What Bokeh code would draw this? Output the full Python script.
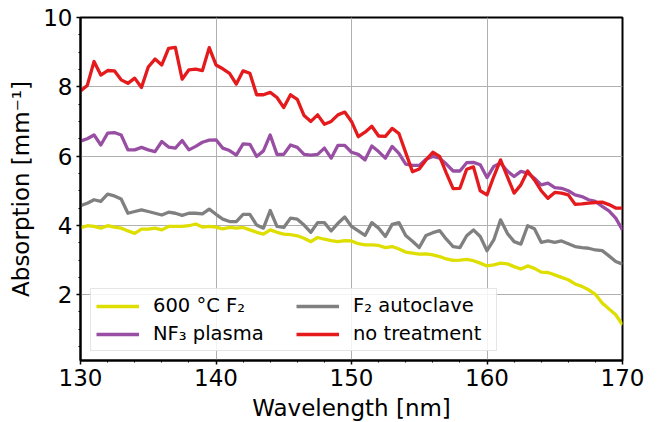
from bokeh.plotting import figure
from bokeh.models import Legend, LegendItem, SingleIntervalTicker, Range1d
from bokeh.embed import file_html
from bokeh.resources import INLINE

wavelength = [130.0, 130.5, 131.0, 131.5, 132.0, 132.5, 133.0, 133.5, 134.0, 134.5,
              135.0, 135.5, 136.0, 136.5, 137.0, 137.5, 138.0, 138.5, 139.0, 139.5,
              140.0, 140.5, 141.0, 141.5, 142.0, 142.5, 143.0, 143.5, 144.0, 144.5,
              145.0, 145.5, 146.0, 146.5, 147.0, 147.5, 148.0, 148.5, 149.0, 149.5,
              150.0, 150.5, 151.0, 151.5, 152.0, 152.5, 153.0, 153.5, 154.0, 154.5,
              155.0, 155.5, 156.0, 156.5, 157.0, 157.5, 158.0, 158.5, 159.0, 159.5,
              160.0, 160.5, 161.0, 161.5, 162.0, 162.5, 163.0, 163.5, 164.0, 164.5,
              165.0, 165.5, 166.0, 166.5, 167.0, 167.5, 168.0, 168.5, 169.0, 169.5,
              170.0]

f2_600c = [3.93, 3.99, 3.97, 3.92, 3.99, 3.95, 3.92, 3.84, 3.77, 3.89,
           3.89, 3.92, 3.87, 3.97, 3.97, 3.97, 3.99, 4.04, 3.95, 3.97,
           3.95, 3.90, 3.94, 3.92, 3.94, 3.87, 3.80, 3.75, 3.87, 3.80,
           3.75, 3.73, 3.70, 3.63, 3.53, 3.65, 3.60, 3.56, 3.53, 3.56,
           3.55, 3.47, 3.44, 3.44, 3.42, 3.36, 3.39, 3.32, 3.23, 3.20,
           3.17, 3.18, 3.15, 3.10, 3.03, 2.99, 3.00, 3.02, 2.98, 2.91,
           2.83, 2.86, 2.91, 2.89, 2.81, 2.74, 2.83, 2.76, 2.65, 2.64,
           2.57, 2.50, 2.43, 2.31, 2.24, 2.14, 2.01, 1.76, 1.59, 1.42,
           1.13]

nf3_plasma = [6.43, 6.50, 6.61, 6.32, 6.66, 6.68, 6.61, 6.18, 6.18, 6.25,
              6.18, 6.13, 6.42, 6.26, 6.23, 6.45, 6.18, 6.28, 6.40, 6.46,
              6.47, 6.23, 6.16, 6.03, 6.35, 6.34, 5.99, 6.15, 6.61, 6.05,
              6.05, 6.32, 6.25, 6.05, 6.03, 6.05, 6.23, 5.94, 6.31, 6.31,
              6.11, 6.05, 5.89, 6.29, 6.13, 5.94, 6.28, 6.08, 5.77, 5.73,
              5.73, 5.91, 5.99, 5.94, 5.77, 5.57, 5.57, 5.81, 5.82, 5.75,
              5.38, 5.70, 5.80, 5.57, 5.41, 5.56, 5.51, 5.36, 5.17, 5.22,
              5.09, 5.07, 5.00, 4.88, 4.83, 4.74, 4.69, 4.55, 4.42, 4.21,
              3.87]

f2_autoclave = [4.57, 4.64, 4.74, 4.69, 4.90, 4.85, 4.76, 4.35, 4.40, 4.45,
                4.40, 4.35, 4.30, 4.38, 4.35, 4.29, 4.35, 4.35, 4.33, 4.47,
                4.32, 4.18, 4.11, 4.11, 4.32, 4.32, 4.01, 3.92, 4.43, 3.97,
                3.94, 4.21, 4.18, 4.01, 3.80, 4.08, 4.08, 3.84, 4.06, 4.24,
                3.97, 3.84, 3.71, 4.08, 3.92, 3.68, 4.03, 4.08, 3.71, 3.54,
                3.36, 3.71, 3.79, 3.85, 3.60, 3.39, 3.36, 3.70, 3.87, 3.68,
                3.27, 3.58, 4.16, 3.77, 3.53, 3.46, 3.99, 3.90, 3.51, 3.55,
                3.51, 3.55, 3.47, 3.39, 3.36, 3.34, 3.29, 3.27, 3.12, 2.96,
                2.88]

no_treatment = [7.88, 8.04, 8.73, 8.34, 8.47, 8.46, 8.20, 8.10, 8.25, 7.98,
                8.57, 8.80, 8.63, 9.11, 9.14, 8.22, 8.49, 8.51, 8.47, 9.13,
                8.63, 8.52, 8.39, 8.08, 8.46, 8.39, 7.77, 7.77, 7.84, 7.69,
                7.40, 7.77, 7.64, 7.17, 7.00, 7.19, 6.92, 7.00, 7.19, 7.27,
                7.00, 6.56, 6.69, 6.86, 6.58, 6.57, 6.80, 6.65, 6.10, 5.55,
                5.63, 5.89, 6.11, 5.99, 5.51, 5.06, 5.07, 5.62, 5.69, 5.00,
                4.88, 5.41, 5.89, 5.41, 4.93, 5.17, 5.57, 5.31, 5.00, 4.78,
                4.95, 4.93, 4.88, 4.61, 4.62, 4.64, 4.66, 4.67, 4.60, 4.50,
                4.50]

series_labels = ["600 °C F₂", "NF₃ plasma", "F₂ autoclave", "no treatment"]
series_colors = ["#dede00", "#984ea3", "#808080", "#e41a1c"]
series_values = [f2_600c, nf3_plasma, f2_autoclave, no_treatment]

FONT = "DejaVu Sans"

p = figure(frame_width=542, frame_height=343,
           min_border_left=80, min_border_right=30, min_border_top=17, min_border_bottom=50,
           x_range=Range1d(130, 170), y_range=Range1d(0.1, 10),
           output_backend="svg", toolbar_location=None,
           background_fill_color="white", border_fill_color="white")

renderers = []
for vals, col in zip(series_values, series_colors):
    r = p.line(wavelength, vals, line_color=col, line_width=3.3, line_join="round")
    renderers.append(r)

p.xaxis.ticker = SingleIntervalTicker(interval=10, num_minor_ticks=5)
p.yaxis.ticker = SingleIntervalTicker(interval=2, num_minor_ticks=4)

for ax in (p.xaxis[0], p.yaxis[0]):
    ax.axis_line_color = "black"
    ax.axis_line_width = 2
    ax.major_tick_line_color = "black"
    ax.minor_tick_line_color = "black"
    ax.major_tick_line_width = 1.5
    ax.minor_tick_line_width = 1
    ax.major_tick_in = 0
    ax.major_tick_out = 4
    ax.minor_tick_in = 0
    ax.minor_tick_out = 2
    ax.major_label_text_font = FONT
    ax.major_label_text_font_size = "23px"
    ax.major_label_text_color = "black"
    ax.axis_label_text_font = FONT
    ax.axis_label_text_font_size = "23px"
    ax.axis_label_text_font_style = "normal"
    ax.axis_label_text_color = "black"
    ax.major_label_standoff = 4
    ax.axis_label_standoff = 6

p.xaxis.axis_label = "Wavelength [nm]"
p.yaxis.axis_label = "Absorption [mm⁻¹]"

p.xgrid.grid_line_color = "#b0b0b0"
p.ygrid.grid_line_color = "#b0b0b0"
p.xgrid.grid_line_width = 1
p.ygrid.grid_line_width = 1

p.outline_line_color = "black"
p.outline_line_width = 2
p.outline_line_alpha = 1

items = [LegendItem(label=lab, renderers=[r]) for lab, r in zip(series_labels, renderers)]
legend = Legend(items=items, location=(10, 9), orientation="vertical", nrows=2,
                label_text_font=FONT, label_text_font_size="19.5px", label_text_color="black",
                glyph_width=43, glyph_height=22, label_standoff=14, label_width=138,
                padding=5, spacing=5, margin=0,
                border_line_color="#cccccc", border_line_width=1.5,
                background_fill_color="white", background_fill_alpha=0.85)
p.add_layout(legend, "center")

open("out.html", "w").write(file_html(p, INLINE))
